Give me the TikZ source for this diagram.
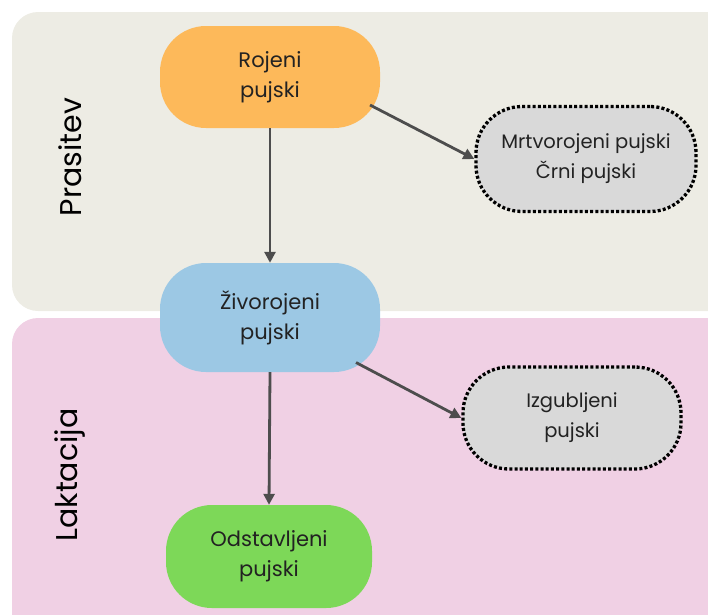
\documentclass[tikz,border=0pt]{standalone}
\usepackage{fontspec}
\setmainfont{Poppins}
\usetikzlibrary{arrows.meta,calc}
\definecolor{bgtop}{HTML}{EDECE4}
\definecolor{bgbot}{HTML}{F0D0E4}
\definecolor{orangec}{HTML}{FDB95A}
\definecolor{bluec}{HTML}{9CC8E4}
\definecolor{greenc}{HTML}{7DD858}
\definecolor{grayc}{HTML}{D9D9D9}
\definecolor{arr}{HTML}{4D4D4D}
\definecolor{txt}{HTML}{222222}
\tikzset{
  pill/.style={draw=none, rounded corners=46pt, minimum width=#1, align=center,
    font=\fontsize{21}{30}\selectfont, text=txt, inner sep=0pt},
  lost/.style={draw=black, line width=3.3pt, dash pattern=on 3pt off 2.2pt,
    fill=grayc, rounded corners=46pt, align=center, inner sep=0pt,
    font=\fontsize{19.5}{30}\selectfont, text=txt},
  conn/.style={draw=arr, line width=2.8pt, -{Triangle[length=11pt,width=11pt]}},
  band/.style={rounded corners=26pt, draw=none},
  phase/.style={rotate=90, font=\fontsize{30}{32}\selectfont, text=black}
}
\begin{document}
\begin{tikzpicture}[x=1pt,y=-1pt]
\useasboundingbox (0,0) rectangle (708,614);
\begin{scope}
\clip (0,0) rectangle (708,614);
\fill[bgtop, band] (12,12) rectangle (740,311);
\fill[bgbot, band] (12,318) rectangle (740,650);
\end{scope}
\node[phase] (p1) at (70,157) {Prasitev};
\node[phase] (p2) at (70,475) {Laktacija};
\node[pill=220pt, minimum height=102pt, fill=orangec] (roj) at (270,77) {Rojeni\\pujski};
\node[pill=220pt, minimum height=109pt, fill=bluec] (ziv) at (270,317.5) {Živorojeni\\pujski};
\node[pill=206pt, minimum height=103pt, fill=greenc] (ods) at (269,556.5) {Odstavljeni\\pujski};
\node[lost, minimum width=220pt, minimum height=105pt] (mrt) at (586,159) {Mrtvorojeni pujski\\Črni pujski};
\node[lost, minimum width=218pt, minimum height=102pt] (izg) at (572,418) {Izgubljeni\\pujski};
\draw[conn] ($(roj.center)+(100,28)$) -- (mrt.west);
\draw[conn] ($(ziv.center)+(86,45)$) -- (izg.west);
\draw[conn] (roj.south) -- (ziv.north);
\draw[conn] (ziv.south) -- (ods.north);
\end{tikzpicture}
\end{document}
